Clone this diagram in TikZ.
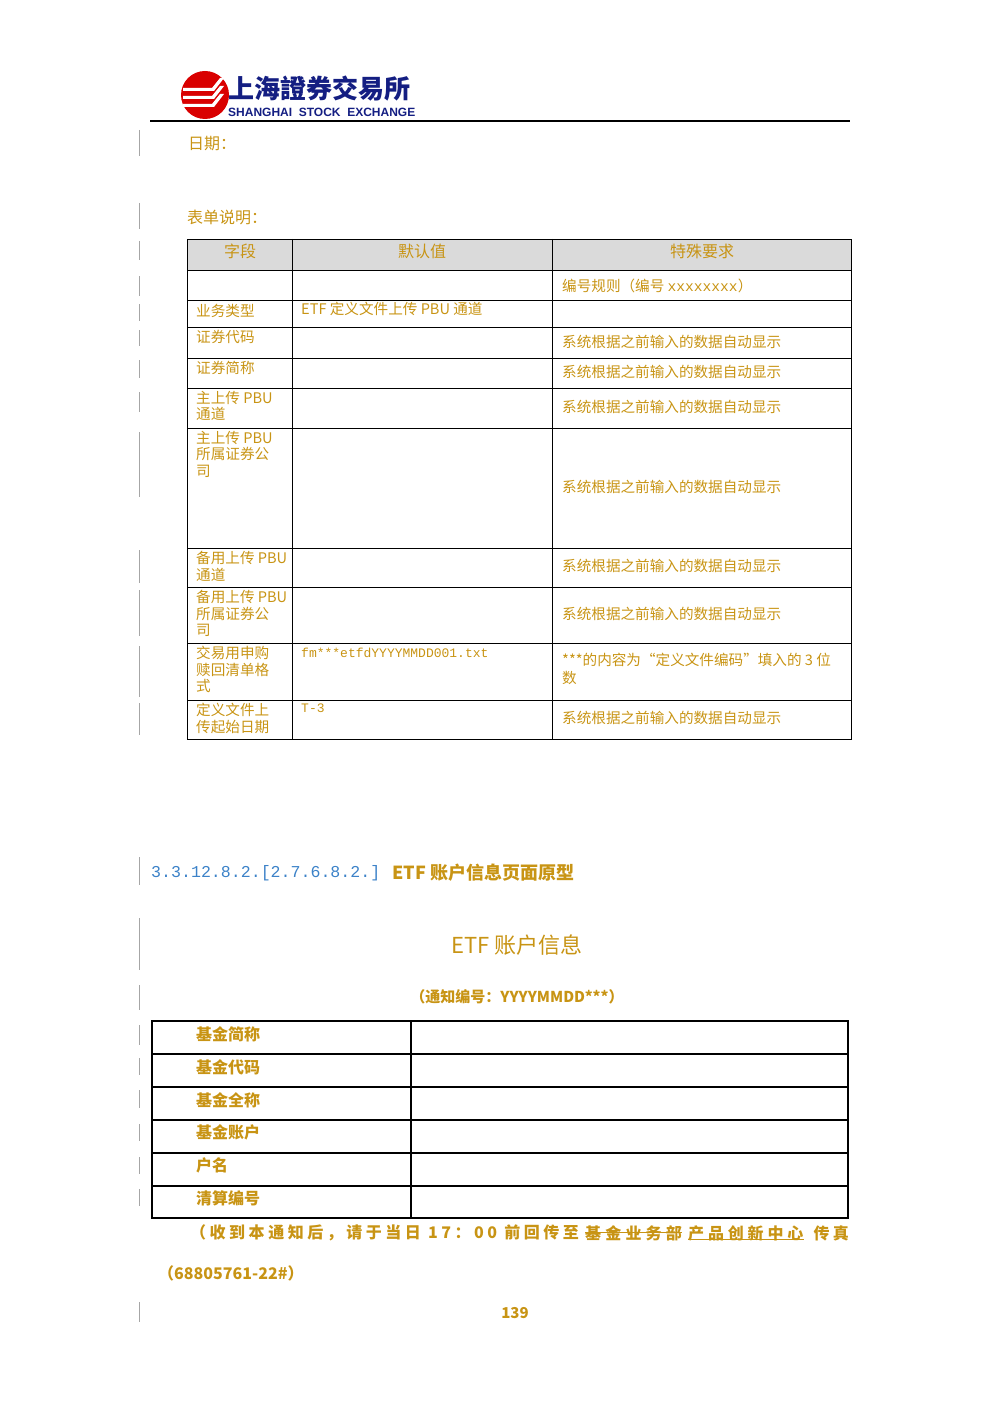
\documentclass[tikz,border=0pt]{standalone}
\usepackage{fontspec}
\setmainfont{Noto Sans CJK SC}
\newfontfamily\tcfont{Noto Sans CJK TC}
\newfontfamily\lsans{Liberation Sans}
\newfontfamily\lmono{Liberation Mono}
\definecolor{gold}{RGB}{200,148,20}
\definecolor{hblue}{RGB}{60,130,200}
\definecolor{navy}{RGB}{20,30,130}
\definecolor{hdr}{RGB}{218,218,218}
\begin{document}
\begin{tikzpicture}[x=1pt,y=-1pt,
  txt/.style={text=gold,font=\fontsize{14.6}{16}\selectfont,inner sep=0pt},
  cell/.style={txt,anchor=north west,align=left,font=\fontsize{14.6}{16.5}\selectfont},
  bar/.style={draw=gray!70,line width=0.8pt},
  nt/.style={txt,font=\bfseries\fontsize{16}{18}\selectfont}]
\useasboundingbox (0,0) rectangle (1000,1415);
% logo
\fill[red!85!black] (205,95) circle (24);
\foreach \yy in {88,96,104}{\fill[white] (183,\yy) -- (212,\yy) -- (220,\yy-10) -- (224,\yy-10) -- (214,\yy+3) -- (183,\yy+3) -- cycle;}
\node[anchor=west,text=navy,font=\tcfont\bfseries\fontsize{26}{28}\selectfont,inner sep=0pt] (logo) at (228,89) {上海證券交易所};
\node[anchor=west,text=navy,font=\lsans\bfseries\fontsize{12}{13}\selectfont,inner sep=0pt] (logoen) at (228,112) {SHANGHAI\ \ STOCK\ \ EXCHANGE};
\draw[line width=1.2pt] (150,121) -- (850,121);
% change bars
\foreach \a/\b in {130/156,203/229,241/260,276/296,304/321,330/346,360/378,392/412,432/497,550/583,590/636,646/697,703/735,857/885,918/970,985/1010,1025/1045,1058/1075,1090/1108,1124/1141,1157/1174,1189/1206,1302/1322}{\draw[bar] (139,\a) -- (139,\b);}
\node[txt,anchor=west,font=\fontsize{16}{18}\selectfont] (date) at (188,144) {日期：};
\node[txt,anchor=west,font=\fontsize{16}{18}\selectfont] (desc) at (187,217) {表单说明：};
% table 1
\fill[hdr] (187,239) rectangle (851,270);
\draw[line width=0.8pt] (187,239) rectangle (851,739);
\foreach \yy in {270,300,327,358,388,428,548,587,643,700}{\draw[line width=0.8pt] (187,\yy) -- (851,\yy);}
\foreach \xx in {292,552}{\draw[line width=0.8pt] (\xx,239) -- (\xx,739);}
\node[txt,font=\fontsize{16}{18}\selectfont] (h1) at (240,251) {字段};
\node[txt,font=\fontsize{16}{18}\selectfont] (h2) at (422,251) {默认值};
\node[txt,font=\fontsize{16}{18}\selectfont] (h3) at (702,251) {特殊要求};
\node[txt,anchor=west] (r0c) at (562,286) {编号规则（编号 {\lmono xxxxxxxx}）};
\node[cell] (r1a) at (196,304) {业务类型};
\node[txt,anchor=north west] (r1b) at (301,302) {ETF 定义文件上传 PBU 通道};
\node[cell] (r2a) at (196,330) {证券代码};
\node[cell] (r3a) at (196,361) {证券简称};
\node[cell] (r4a) at (196,391) {主上传 PBU\\通道};
\node[cell] (r5a) at (196,431) {主上传 PBU\\所属证券公\\司};
\node[cell] (r6a) at (196,551) {备用上传 PBU\\通道};
\node[cell] (r7a) at (196,590) {备用上传 PBU\\所属证券公\\司};
\node[cell] (r8a) at (196,646) {交易用申购\\赎回清单格\\式};
\node[txt,anchor=north west,font=\lmono\fontsize{13}{15}\selectfont] (r8b) at (301,648) {fm***etfdYYYYMMDD001.txt};
\node[cell] (r9a) at (196,703) {定义文件上\\传起始日期};
\node[txt,anchor=north west,font=\lmono\fontsize{13}{15}\selectfont] (r9b) at (301,704) {T-3};
\foreach \nm/\yy in {a/342,b/372,c/407,d/487,e/566,f/614,g/718}{\node[txt,anchor=west] (auto\nm) at (562,\yy) {系统根据之前输入的数据自动显示};}
\node[txt,anchor=north west,align=left,font=\fontsize{14.6}{18}\selectfont] (r8c) at (562,653) {***的内容为“定义文件编码”填入的 3 位\\数};
% heading
\node[anchor=west,inner sep=0pt,text=hblue,font=\lmono\fontsize{16.6}{18}\selectfont] (secn) at (151,873) {3.3.12.8.2.[2.7.6.8.2.]};
\node[anchor=west,inner sep=0pt,text=gold,font=\bfseries\fontsize{18}{20}\selectfont] (sec) at (392,873) {ETF 账户信息页面原型};
\node[txt,font=\fontsize{22}{24}\selectfont] (title) at (517,945) {ETF 账户信息};
\node[txt,font=\bfseries\fontsize{15}{17}\selectfont] (sub) at (517,997) {（通知编号：YYYYMMDD***）};
% table 2
\draw[line width=2pt] (152,1021) rectangle (848,1218);
\foreach \yy in {1054,1087,1120,1153,1186}{\draw[line width=2pt] (152,\yy) -- (848,\yy);}
\draw[line width=2pt] (411,1021) -- (411,1218);
\foreach \nm/\t/\yy in {f1/基金简称/1034,f2/基金代码/1067,f3/基金全称/1100,f4/基金账户/1132,f5/户名/1165,f6/清算编号/1198}{\node[nt,anchor=west] (\nm) at (196,\yy) {\t};}
\node[nt,anchor=west,font=\bfseries\addfontfeature{LetterSpace=22}\fontsize{16}{18}\selectfont] (n1) at (190,1233) {（收到本通知后，请于当日 17：00 前回传至};
\node[nt,anchor=west,font=\bfseries\addfontfeature{LetterSpace=26}\fontsize{16}{18}\selectfont] (n2) at (585,1233) {基金业务部};
\node[nt,anchor=west,font=\bfseries\addfontfeature{LetterSpace=24}\fontsize{16}{18}\selectfont] (n3) at (688,1233) {产品创新中心};
\node[nt,anchor=east,font=\bfseries\addfontfeature{LetterSpace=20}\fontsize{16}{18}\selectfont] (n4) at (849,1233) {传真};
\draw[gold,line width=1pt] ([yshift=1pt]n2.west) -- ([yshift=1pt]n2.east);
\draw[gold,line width=0.8pt] ([yshift=2pt]n3.south west) -- ([yshift=2pt]n3.south east);
\node[nt,anchor=west] (tel) at (158,1273) {（68805761-22\#）};
\node[txt,font=\bfseries\fontsize{15}{17}\selectfont] (page) at (515,1313) {139};
\end{tikzpicture}
\end{document}
